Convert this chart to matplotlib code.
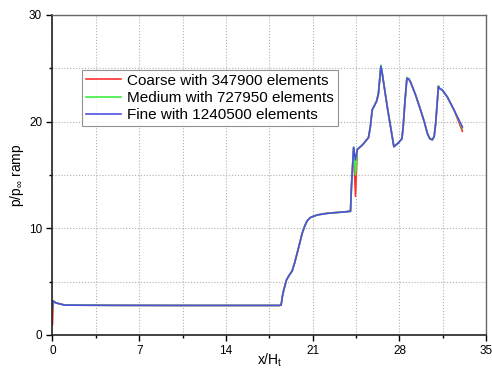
import numpy as np
import matplotlib
matplotlib.use('Agg')
import matplotlib.pyplot as plt
from matplotlib.ticker import MultipleLocator

plt.rcParams['font.family'] = ['Liberation Sans', 'DejaVu Sans']
plt.rcParams['mathtext.fontset'] = 'custom'
plt.rcParams['mathtext.rm'] = 'Liberation Sans'
plt.rcParams['mathtext.it'] = 'Liberation Sans'

# x/H positions sampled along the ramp
x_vals = [0.0, 0.05, 0.3, 1.0, 5.0, 10.0, 15.0, 18.3, 18.45, 18.55, 18.66,
          18.88, 19.1, 19.34, 19.55, 19.74, 19.95, 20.14, 20.35, 20.55,
          20.8, 21.0, 21.36, 22.0, 22.7, 23.5, 24.05,
          24.13, 24.3, 24.45, 24.6, 25.0, 25.5, 25.65, 25.8, 26.15, 26.3,
          26.5, 26.6, 27.0, 27.3, 27.55, 27.9, 28.2, 28.3, 28.45, 28.6,
          28.75, 28.9, 29.3, 29.7, 30.0, 30.25, 30.45, 30.65, 30.8,
          30.92, 31.05, 31.14, 31.25, 31.46, 31.87, 32.4, 33.08]

fine = [2.6, 3.2, 3.0, 2.8, 2.78, 2.77, 2.77, 2.77, 2.8, 3.6, 4.2,
        5.15, 5.6, 6.0, 6.8, 7.65, 8.6, 9.5, 10.2, 10.7,
        11.0, 11.1, 11.25, 11.38, 11.46, 11.53, 11.6,
        14.0, 17.6, 16.4, 17.4, 17.8, 18.5, 19.5, 21.1, 21.9, 22.6,
        25.2, 24.6, 21.5, 19.4, 17.65, 18.0, 18.4, 19.5, 22.0, 24.05,
        24.0, 23.7, 22.5, 21.1, 20.0, 18.9, 18.4, 18.3, 18.6,
        19.8, 21.8, 23.3, 23.1, 22.96, 22.3, 21.1, 19.5]

medium = [2.5, 3.2, 3.0, 2.8, 2.78, 2.77, 2.77, 2.77, 2.8, 3.6, 4.2,
          5.15, 5.6, 6.0, 6.8, 7.65, 8.6, 9.5, 10.2, 10.7,
          11.0, 11.1, 11.25, 11.38, 11.46, 11.53, 11.6,
          14.0, 17.6, 15.0, 17.4, 17.8, 18.5, 19.5, 21.1, 21.9, 22.6,
          25.3, 24.6, 21.5, 19.4, 17.65, 18.0, 18.4, 19.5, 22.0, 24.15,
          24.0, 23.7, 22.5, 21.1, 20.0, 18.9, 18.4, 18.3, 18.6,
          19.8, 21.8, 23.35, 23.1, 22.96, 22.3, 21.1, 19.4]

coarse = [1.0, 3.1, 3.0, 2.8, 2.78, 2.77, 2.77, 2.77, 2.8, 3.6, 4.2,
          5.15, 5.6, 6.0, 6.8, 7.65, 8.6, 9.5, 10.2, 10.7,
          11.0, 11.1, 11.25, 11.38, 11.46, 11.53, 11.6,
          14.0, 17.5, 13.0, 17.4, 17.8, 18.5, 19.5, 21.1, 21.9, 22.6,
          25.1, 24.6, 21.5, 19.4, 17.65, 18.0, 18.4, 19.5, 22.0, 24.0,
          24.0, 23.7, 22.5, 21.1, 20.0, 18.9, 18.4, 18.3, 18.6,
          19.8, 21.8, 23.3, 23.1, 22.96, 22.3, 21.1, 19.1]

labels = ['Coarse with 347900 elements',
          'Medium with 727950 elements',
          'Fine with 1240500 elements']
colors = ['#ff3030', '#40ee40', '#5050e0']

fig = plt.figure(figsize=(4.92, 3.70), dpi=100)
ax = fig.add_axes([0.1067, 0.0946, 0.8815, 0.865])

for ys, lab, c in zip([coarse, medium, fine], labels, colors):
    ax.plot(x_vals, ys, color=c, lw=1.2, label=lab)

ax.set_xlim(0, 35)
ax.set_ylim(0, 30)
ax.xaxis.set_major_locator(MultipleLocator(7))
ax.xaxis.set_minor_locator(MultipleLocator(3.5))
ax.yaxis.set_major_locator(MultipleLocator(10))
ax.yaxis.set_minor_locator(MultipleLocator(5))
ax.grid(True, which='both', ls=':', color='#b0b0b0', lw=0.8)

ax.tick_params(which='major', direction='out', length=4, width=1, labelsize=8.5)
ax.tick_params(which='minor', direction='out', length=2, width=1)
for s in ['left', 'bottom']:
    ax.spines[s].set_color('#222222')
    ax.spines[s].set_linewidth(1.2)
for s in ['top', 'right']:
    ax.spines[s].set_color('#666666')
    ax.spines[s].set_linewidth(1.0)

ax.set_xlabel('x/H$_{\\mathrm{t}}$', fontsize=10)
ax.xaxis.set_label_coords(0.5, -0.052)
ax.set_ylabel('p/p$_{\\infty}$ ramp', fontsize=10, labelpad=2)

leg = ax.legend(loc='upper left', bbox_to_anchor=(0.068, 0.828), borderaxespad=0,
                fontsize=11, frameon=True, fancybox=False, handlelength=2.3,
                labelspacing=0.2, borderpad=0.25, handletextpad=0.4)
leg.get_frame().set_edgecolor('#777777')
leg.get_frame().set_linewidth(0.8)

fig.savefig('out.png', dpi=100)
